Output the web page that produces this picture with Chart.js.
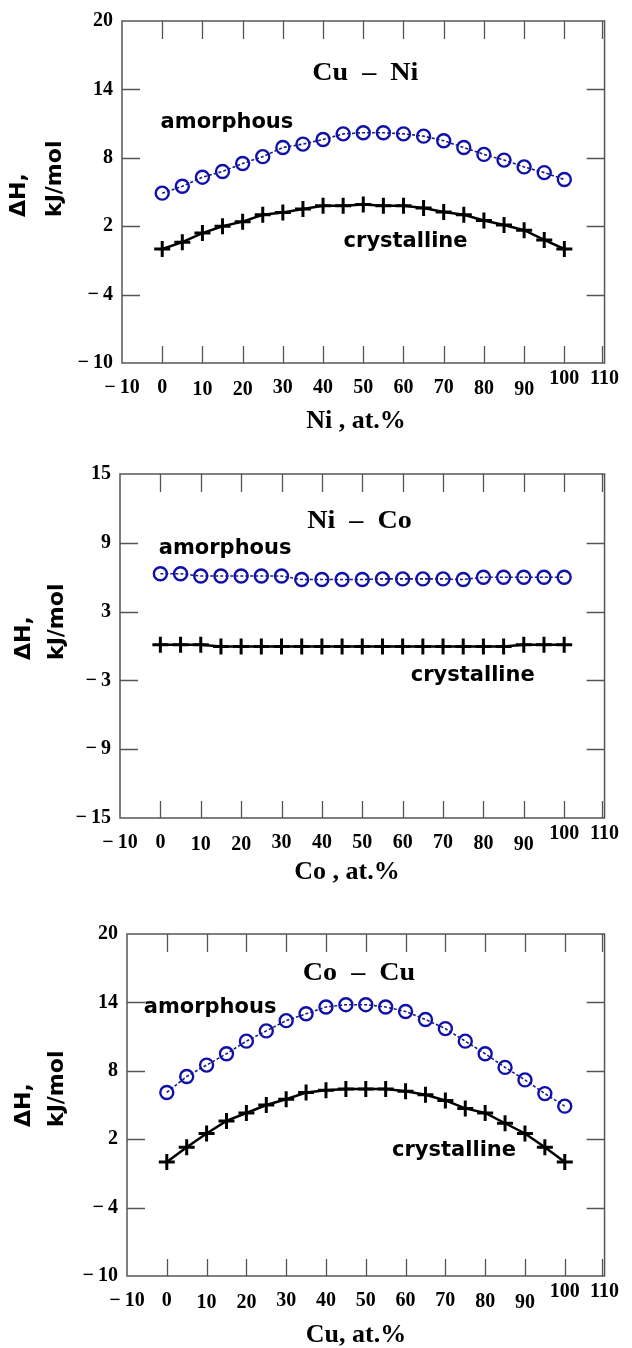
<!DOCTYPE html>
<html><head><meta charset="utf-8">
<script src="https://cdn.jsdelivr.net/npm/chart.js@4.4.1/dist/chart.umd.min.js"></script>
<style>
html,body{margin:0;padding:0;background:#fff;width:632px;height:1348px;overflow:hidden;position:relative;}
canvas{position:absolute;left:0;}
</style></head><body>
<canvas id="c1" width="632" height="450" style="top:0px"></canvas>
<canvas id="c2" width="632" height="450" style="top:453px"></canvas>
<canvas id="c3" width="632" height="435" style="top:913px"></canvas>
<script>
// ---------- data ----------
const composition = [0, 5, 10, 15, 20, 25, 30, 35, 40, 45, 50, 55, 60, 65, 70, 75, 80, 85, 90, 95, 100];
const xTicks = [-10, 0, 10, 20, 30, 40, 50, 60, 70, 80, 90, 100, 110];

const cuNiYTicks = [-10, -4, 2, 8, 14, 20];
const cuNiAmorphous   = [4.9, 5.5, 6.3, 6.8, 7.5, 8.1, 8.9, 9.2, 9.6, 10.1, 10.2, 10.2, 10.1, 9.9, 9.5, 8.9, 8.3, 7.8, 7.2, 6.7, 6.1];
const cuNiCrystalline = [0.0, 0.6, 1.4, 2.0, 2.4, 3.0, 3.2, 3.5, 3.8, 3.8, 3.9, 3.8, 3.8, 3.6, 3.25, 3.0, 2.5, 2.1, 1.65, 0.8, 0.0];

const niCoYTicks = [-15, -9, -3, 3, 9, 15];
const niCoAmorphous   = [6.3, 6.3, 6.1, 6.1, 6.1, 6.1, 6.1, 5.8, 5.8, 5.8, 5.8, 5.85, 5.85, 5.85, 5.85, 5.8, 6.0, 6.0, 6.0, 6.0, 6.0];
const niCoCrystalline = [0.1, 0.1, 0.1, -0.05, -0.05, -0.05, -0.05, -0.05, -0.05, -0.05, -0.05, -0.05, -0.05, -0.05, -0.05, -0.05, -0.05, -0.05, 0.1, 0.1, 0.1];

const coCuYTicks = [-10, -4, 2, 8, 14, 20];
const coCuAmorphous   = [6.1, 7.5, 8.5, 9.5, 10.6, 11.5, 12.4, 13.0, 13.6, 13.8, 13.8, 13.6, 13.2, 12.5, 11.7, 10.6, 9.5, 8.3, 7.2, 6.0, 4.9];
const coCuCrystalline = [0.0, 1.3, 2.5, 3.6, 4.3, 5.0, 5.5, 6.1, 6.3, 6.4, 6.4, 6.4, 6.2, 5.9, 5.4, 4.7, 4.3, 3.4, 2.5, 1.3, 0.0];

const yTitleLines = ['ΔH,', 'kJ/mol'];
const amorphousLabel = 'amorphous';
const crystallineLabel = 'crystalline';

// ---------- layout / style ----------
const panels = [
  { id: 'c1', height: 450, area: { left: 122, right: 610, top: 14, bottom: 363 },
    yTicks: cuNiYTicks, amorphous: cuNiAmorphous, crystalline: cuNiCrystalline,
    title: 'Cu  –  Ni', xTitle: 'Ni , at.%',
    titlePos: { x: 50.5, y: 15.45 }, amorphPos: { x: -0.4, y: 11.05 }, crystPos: { x: 45.1, y: 0.65 },
    yTitleX: [19, 55], yTitleStart: 217, xTitleX: 356, xTitleY: 421 },
  { id: 'c2', height: 450, area: { left: 120, right: 608, top: 14, bottom: 365 },
    yTicks: niCoYTicks, amorphous: niCoAmorphous, crystalline: niCoCrystalline,
    title: 'Ni  –  Co', xTitle: 'Co , at.%',
    titlePos: { x: 49.3, y: 10.9 }, amorphPos: { x: -0.4, y: 8.5 }, crystPos: { x: 62, y: -2.6 },
    yTitleX: [24, 57], yTitleStart: 207, xTitleX: 347, xTitleY: 419 },
  { id: 'c3', height: 435, area: { left: 127, right: 615, top: 14, bottom: 363 },
    yTicks: coCuYTicks, amorphous: coCuAmorphous, crystalline: coCuCrystalline,
    title: 'Co  –  Cu', xTitle: 'Cu, at.%',
    titlePos: { x: 48.3, y: 16.56 }, amorphPos: { x: -5.8, y: 13.55 }, crystPos: { x: 56.6, y: 1.0 },
    yTitleX: [24, 57], yTitleStart: 214, xTitleX: 356, xTitleY: 422 }
];

const xLabelRaise = { 10: -2, 20: -2, 80: -1, 90: -2, 100: 9, 110: 9 };
const fmt = v => (v < 0 ? '\u2212\u2009' + Math.abs(v) : String(v));
const BLUE = '#1010aa';

function makeDecor(p) {
  return {
    id: 'decor',
    beforeDatasetsDraw(chart) {
      const { ctx, chartArea: a, scales: { x, y } } = chart;
      ctx.save();
      ctx.strokeStyle = '#555';
      ctx.lineWidth = 1.5;
      ctx.strokeRect(a.left, a.top, a.right - a.left, a.bottom - a.top);
      ctx.lineWidth = 1.3;
      ctx.beginPath();
      x.ticks.forEach(t => {
        if (t.value <= x.min) return;
        let px = Math.round(x.getPixelForValue(t.value)) + 0.5;
        if (t.value >= x.max) px -= 3;
        ctx.moveTo(px, a.bottom); ctx.lineTo(px, a.bottom - 17);
        ctx.moveTo(px, a.top); ctx.lineTo(px, a.top + 18);
      });
      y.ticks.forEach(t => {
        if (t.value <= y.min || t.value >= y.max) return;
        const py = Math.round(y.getPixelForValue(t.value)) + 0.5;
        ctx.moveTo(a.left, py); ctx.lineTo(a.left + 18, py);
        ctx.moveTo(a.right, py); ctx.lineTo(a.right - 18, py);
      });
      ctx.stroke();
      ctx.restore();
    },
    afterDraw(chart) {
      const { ctx, scales: { x, y } } = chart;
      ctx.save();
      ctx.fillStyle = '#000';
      // y-axis title
      ctx.font = 'bold 22px "DejaVu Sans"';
      ctx.textAlign = 'left';
      ctx.textBaseline = 'middle';
      yTitleLines.forEach((line, i) => {
        ctx.save();
        ctx.translate(p.yTitleX[i], p.yTitleStart);
        ctx.rotate(-Math.PI / 2);
        ctx.fillText(line, 0, 0);
        ctx.restore();
      });
      // x-axis title
      ctx.font = 'bold 26px "Liberation Serif"';
      ctx.textAlign = 'center';
      ctx.fillText(p.xTitle, p.xTitleX, p.xTitleY);
      // panel title (slightly widened like the original)
      ctx.save();
      ctx.font = 'bold 26px "Liberation Serif"';
      ctx.translate(x.getPixelForValue(p.titlePos.x), y.getPixelForValue(p.titlePos.y));
      ctx.scale(1.08, 1);
      ctx.fillText(p.title, 0, 0);
      ctx.restore();
      // series labels
      ctx.font = 'bold 21px "DejaVu Sans"';
      ctx.textAlign = 'left';
      ctx.fillText(amorphousLabel, x.getPixelForValue(p.amorphPos.x), y.getPixelForValue(p.amorphPos.y));
      ctx.fillText(crystallineLabel, x.getPixelForValue(p.crystPos.x), y.getPixelForValue(p.crystPos.y));
      ctx.restore();
    }
  };
}

panels.forEach(p => {
  const a = p.area;
  const yMin = Math.min(...p.yTicks), yMax = Math.max(...p.yTicks);
  new Chart(document.getElementById(p.id), {
    type: 'scatter',
    data: {
      datasets: [
        {
          label: amorphousLabel,
          data: composition.map((c, i) => ({ x: c, y: p.amorphous[i] })),
          showLine: true,
          borderColor: '#1a1a80',
          borderWidth: 1.6,
          borderDash: [3, 2],
          pointStyle: 'circle',
          pointRadius: 6.5,
          pointBorderWidth: 2.4,
          pointBorderColor: BLUE,
          pointBackgroundColor: 'rgba(0,0,0,0)',
          tension: 0
        },
        {
          label: crystallineLabel,
          data: composition.map((c, i) => ({ x: c, y: p.crystalline[i] })),
          showLine: true,
          borderColor: '#000',
          borderWidth: 2.5,
          pointStyle: 'cross',
          pointRadius: 8,
          pointBorderWidth: 3,
          pointBorderColor: '#000',
          pointBackgroundColor: '#000',
          tension: 0
        }
      ]
    },
    options: {
      responsive: false,
      animation: false,
      devicePixelRatio: 1,
      layout: { padding: { left: 0, top: a.top, right: 632 - a.right, bottom: p.height - a.bottom - 40 } },
      plugins: { legend: { display: false }, tooltip: { enabled: false } },
      scales: {
        x: {
          type: 'linear', min: -10, max: 110,
          afterFit(s) { s.height = 40; },
          afterBuildTicks(s) { s.ticks = xTicks.map(v => ({ value: v })); },
          grid: { display: false, drawTicks: false },
          border: { display: false },
          ticks: {
            autoSkip: false, maxRotation: 0, minRotation: 0, padding: 13, color: '#000',
            callback: v => fmt(v),
            font: ctx => ({ family: 'Liberation Serif', weight: 'bold', size: 20,
              lineHeight: (24 - 2 * ((ctx.tick && xLabelRaise[ctx.tick.value]) || 0)) + 'px' })
          }
        },
        y: {
          type: 'linear', min: yMin, max: yMax,
          afterFit(s) { s.width = a.left; },
          afterBuildTicks(s) { s.ticks = p.yTicks.map(v => ({ value: v })); },
          grid: { display: false, drawTicks: false },
          border: { display: false },
          ticks: {
            autoSkip: false, padding: 9, color: '#000',
            callback: v => fmt(v),
            font: { family: 'Liberation Serif', weight: 'bold', size: 20 }
          }
        }
      }
    },
    plugins: [makeDecor(p)]
  });
});
</script>
</body></html>
